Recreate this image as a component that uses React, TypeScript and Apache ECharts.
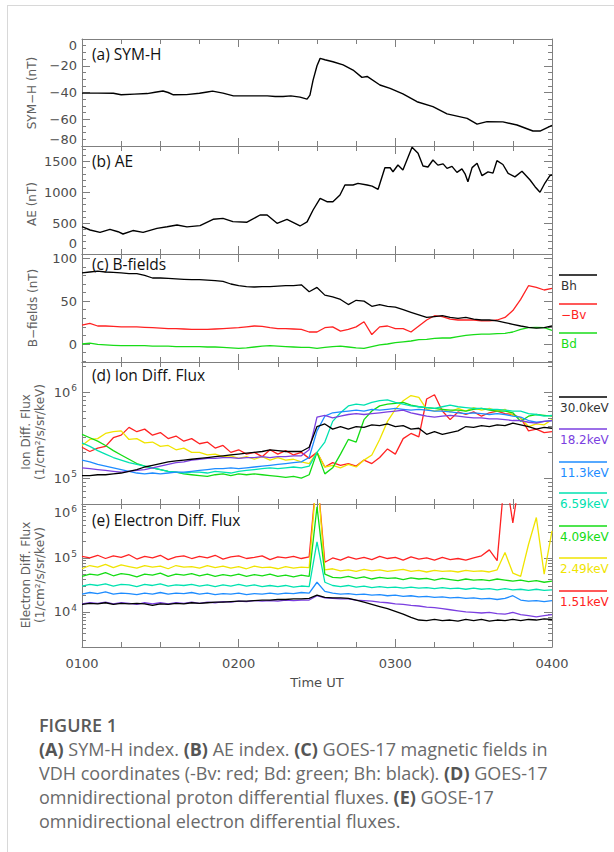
import React, { useEffect, useRef } from "react";
import * as echarts from "echarts";

// ---------- time grid (minutes after 0000 UT) ----------
const TIMES = [60, 63, 66, 69, 72, 75, 78, 81, 84, 87, 90, 93, 96, 99, 102, 105, 108, 111, 114, 117, 120, 123, 126, 129, 132, 135, 138, 141, 144, 147, 150, 153, 156, 159, 162, 165, 168, 171, 174, 177, 180, 183, 186, 189, 192, 195, 198, 201, 204, 207, 210, 213, 216, 219, 222, 225, 228, 231, 234, 237, 240];

// ---------- (a) SYM-H [minute, nT] ----------
const SYMH = [[60, -40.5], [66, -40.5], [72, -40.6], [75, -41.7], [80, -41.2], [85, -40.8], [88, -39.8], [91, -38.9], [93, -40], [95, -41.7], [100, -41.6], [105, -40.6], [108, -39.6], [110, -39], [114, -40.5], [118, -42.5], [124, -42.5], [131, -42.5], [134, -43], [137, -43], [140, -42.5], [143.5, -43.5], [146.2, -44.9], [147.3, -42], [148.5, -30.7], [150, -20], [151.2, -14.5], [153, -15.5], [156.1, -17], [160, -19.4], [163.8, -23.2], [167.2, -28.7], [169.2, -28], [174.1, -34.4], [178, -36.9], [182.9, -41.1], [188.3, -46.9], [194.4, -50.6], [199.8, -56], [207.5, -59.3], [211.3, -63.6], [215.1, -61.8], [221.2, -62], [226.6, -64.3], [232.7, -68.8], [235.4, -68.8], [240, -64.5]];

// ---------- (b) AE [minute, nT] ----------
const AE = [[60, 442], [63.1, 389], [66.9, 351], [70.7, 400], [73.8, 361], [75.7, 324], [79.5, 380], [83.4, 350], [88.7, 416], [92.6, 442], [96.4, 470], [100.2, 440], [105.2, 460], [110.2, 562], [114, 578], [117.8, 524], [123.2, 515], [128.2, 632], [130.9, 632], [134.7, 497], [138.5, 560], [143.5, 454], [146.2, 520], [148.5, 713], [151.2, 902], [153.8, 847], [156.1, 847], [158.8, 956], [160.7, 1118], [163.8, 1118], [165.7, 1145], [169.2, 1118], [171.1, 1100], [173.4, 1048], [176, 1398], [178, 1398], [179.1, 1333], [181, 1442], [182.9, 1361], [186.4, 1728], [188.7, 1631], [190.6, 1426], [192.5, 1410], [194.4, 1523], [196.3, 1440], [198.3, 1460], [199.8, 1388], [201.7, 1420], [203.6, 1323], [205.5, 1380], [206.7, 1300], [207.8, 1171], [209.4, 1400], [211.3, 1469], [213.2, 1269], [215.5, 1330], [217.4, 1310], [218.9, 1512], [221.2, 1450], [223.2, 1307], [225.8, 1250], [228.5, 1340], [231.6, 1199], [233.5, 1091], [235.4, 1000], [237.3, 1150], [239.2, 1269], [240, 1280]];

// ---------- (c) B-fields, nT, on TIMES ----------
const BH = [83, 84, 85, 84, 83.5, 83, 82, 82, 80, 77, 77, 76.5, 76, 75.5, 75, 75, 74.5, 74, 73, 70, 68, 67, 66.5, 67, 67, 67.5, 68, 68, 69, 61, 66, 57, 55, 52, 46, 51, 50, 44, 46, 44, 43, 40, 37, 34, 31, 32, 33, 31, 30, 31, 29, 28, 28, 27, 25, 23, 21, 19.5, 18.5, 19, 21];
const MINUS_BV = [22, 24, 21, 21, 20.5, 20, 20, 20, 19.5, 19, 18.5, 18, 18, 17.5, 17, 17, 17, 17.5, 18, 18.5, 19, 20, 21, 20.5, 19, 18, 18, 17.5, 17, 14, 14, 19, 20, 15, 17, 20, 26, 11, 20, 21, 18, 18, 14, 21, 28, 33, 32, 29, 28, 28, 28, 27, 27, 28, 31, 39, 52, 68, 66, 63, 65];
const BD = [0, 1, -0.5, -1, -1.5, -2, -2, -2, -2, -2.5, -2.5, -2.5, -3, -3, -3, -3, -3.5, -3.5, -4, -4.5, -5, -4.5, -3.5, -2.5, -2, -2.5, -3, -3.5, -4, -4, -5, -4, -3, -2.5, -3.5, -4.5, -5, -3, -1, 0, 1.5, 2.5, 3.5, 5, 5.5, 6.5, 7, 7, 8.5, 10, 11, 11.5, 11.5, 12, 12.5, 14, 17, 19, 19.5, 19, 16];

// ---------- (d) Ion differential flux, log10(1/cm2/s/sr/keV), on TIMES ----------
const ION_30_0 = [5.03, 5.03, 5.04, 5.04, 5.05, 5.06, 5.08, 5.10, 5.13, 5.15, 5.17, 5.19, 5.20, 5.21, 5.22, 5.23, 5.24, 5.25, 5.26, 5.27, 5.28, 5.29, 5.30, 5.31, 5.33, 5.32, 5.31, 5.31, 5.31, 5.36, 5.60, 5.63, 5.57, 5.60, 5.57, 5.60, 5.59, 5.62, 5.61, 5.63, 5.60, 5.61, 5.57, 5.58, 5.51, 5.54, 5.51, 5.53, 5.55, 5.60, 5.59, 5.61, 5.60, 5.62, 5.61, 5.64, 5.62, 5.60, 5.57, 5.59, 5.58];
const ION_18_2 = [5.12, 5.11, 5.10, 5.09, 5.08, 5.07, 5.08, 5.09, 5.10, 5.12, 5.14, 5.16, 5.18, 5.19, 5.21, 5.22, 5.23, 5.23, 5.24, 5.24, 5.23, 5.24, 5.24, 5.25, 5.24, 5.25, 5.25, 5.26, 5.26, 5.33, 5.71, 5.73, 5.70, 5.72, 5.74, 5.75, 5.74, 5.75, 5.76, 5.77, 5.78, 5.79, 5.76, 5.74, 5.72, 5.71, 5.72, 5.73, 5.72, 5.71, 5.70, 5.70, 5.69, 5.69, 5.68, 5.67, 5.67, 5.65, 5.64, 5.66, 5.67];
const ION_11_3 = [5.21, 5.19, 5.16, 5.14, 5.12, 5.10, 5.08, 5.06, 5.05, 5.06, 5.05, 5.06, 5.07, 5.07, 5.08, 5.09, 5.10, 5.11, 5.11, 5.12, 5.11, 5.12, 5.13, 5.14, 5.15, 5.16, 5.17, 5.18, 5.19, 5.24, 5.55, 5.72, 5.76, 5.77, 5.78, 5.79, 5.78, 5.80, 5.79, 5.80, 5.81, 5.80, 5.79, 5.80, 5.79, 5.78, 5.78, 5.77, 5.76, 5.75, 5.76, 5.75, 5.74, 5.75, 5.74, 5.72, 5.71, 5.67, 5.65, 5.66, 5.67];
const ION_6_59 = [5.41, 5.37, 5.32, 5.28, 5.24, 5.21, 5.18, 5.16, 5.14, 5.12, 5.10, 5.08, 5.07, 5.06, 5.07, 5.07, 5.06, 5.08, 5.07, 5.06, 5.08, 5.09, 5.10, 5.11, 5.12, 5.11, 5.12, 5.13, 5.12, 5.14, 5.30, 5.42, 5.66, 5.76, 5.84, 5.86, 5.85, 5.88, 5.90, 5.91, 5.88, 5.86, 5.84, 5.83, 5.82, 5.81, 5.83, 5.85, 5.83, 5.82, 5.81, 5.81, 5.80, 5.80, 5.79, 5.78, 5.78, 5.75, 5.74, 5.72, 5.73];
const ION_4_09 = [5.51, 5.47, 5.43, 5.38, 5.32, 5.27, 5.22, 5.17, 5.14, 5.12, 5.10, 5.08, 5.07, 5.05, 5.04, 5.03, 5.02, 5.04, 5.05, 5.03, 5.05, 5.04, 5.05, 5.04, 5.03, 5.02, 5.01, 5.02, 5.00, 5.04, 5.30, 5.05, 5.12, 5.28, 5.45, 5.42, 5.68, 5.78, 5.84, 5.86, 5.87, 5.88, 5.85, 5.83, 5.82, 5.81, 5.80, 5.79, 5.79, 5.78, 5.80, 5.81, 5.79, 5.78, 5.78, 5.76, 5.66, 5.72, 5.74, 5.73, 5.72];
const ION_2_49 = [5.38, 5.45, 5.46, 5.52, 5.54, 5.55, 5.45, 5.46, 5.41, 5.42, 5.37, 5.38, 5.33, 5.35, 5.30, 5.30, 5.27, 5.28, 5.25, 5.26, 5.23, 5.25, 5.22, 5.25, 5.21, 5.24, 5.21, 5.22, 5.19, 5.17, 5.30, 5.13, 5.15, 5.12, 5.16, 5.13, 5.21, 5.27, 5.45, 5.66, 5.80, 5.90, 5.96, 5.94, 5.80, 5.78, 5.80, 5.77, 5.81, 5.78, 5.82, 5.79, 5.81, 5.78, 5.80, 5.73, 5.70, 5.60, 5.63, 5.62, 5.68];
const ION_1_51 = [5.36, 5.31, 5.35, 5.37, 5.47, 5.50, 5.59, 5.54, 5.57, 5.50, 5.53, 5.46, 5.49, 5.43, 5.46, 5.40, 5.42, 5.35, 5.38, 5.30, 5.33, 5.28, 5.30, 5.25, 5.33, 5.28, 5.32, 5.27, 5.30, 5.23, 5.30, 5.13, 5.18, 5.15, 5.17, 5.14, 5.21, 5.17, 5.24, 5.34, 5.28, 5.46, 5.52, 5.48, 5.92, 5.97, 5.78, 5.68, 5.77, 5.74, 5.77, 5.72, 5.76, 5.78, 5.75, 5.74, 5.70, 5.55, 5.57, 5.53, 5.54];

// ---------- (e) Electron differential flux, log10, on TIMES (6.6 = off scale) ----------
const ELE_30_0 = [4.14, 4.16, 4.15, 4.17, 4.14, 4.16, 4.15, 4.16, 4.15, 4.12, 4.15, 4.14, 4.16, 4.15, 4.17, 4.16, 4.17, 4.18, 4.18, 4.19, 4.20, 4.20, 4.21, 4.22, 4.22, 4.23, 4.23, 4.24, 4.24, 4.25, 4.31, 4.27, 4.26, 4.26, 4.25, 4.22, 4.18, 4.14, 4.10, 4.06, 4.01, 3.96, 3.90, 3.85, 3.84, 3.86, 3.84, 3.85, 3.83, 3.86, 3.84, 3.86, 3.83, 3.85, 3.84, 3.86, 3.84, 3.86, 3.85, 3.87, 3.86];
const ELE_18_2 = [4.15, 4.17, 4.16, 4.18, 4.15, 4.17, 4.16, 4.14, 4.17, 4.15, 4.17, 4.15, 4.17, 4.16, 4.18, 4.16, 4.18, 4.17, 4.19, 4.18, 4.20, 4.19, 4.21, 4.20, 4.21, 4.20, 4.22, 4.21, 4.22, 4.22, 4.30, 4.26, 4.25, 4.24, 4.24, 4.22, 4.21, 4.20, 4.18, 4.17, 4.15, 4.14, 4.12, 4.11, 4.09, 4.08, 4.06, 4.04, 4.02, 4.00, 3.99, 3.98, 3.99, 3.97, 3.96, 3.99, 3.95, 3.93, 3.91, 3.93, 3.95];
const ELE_11_3 = [4.33, 4.36, 4.34, 4.37, 4.33, 4.35, 4.34, 4.32, 4.35, 4.33, 4.36, 4.33, 4.35, 4.34, 4.36, 4.33, 4.35, 4.32, 4.34, 4.33, 4.35, 4.32, 4.34, 4.33, 4.35, 4.33, 4.35, 4.34, 4.36, 4.35, 4.55, 4.38, 4.35, 4.33, 4.34, 4.32, 4.33, 4.31, 4.32, 4.30, 4.31, 4.29, 4.30, 4.28, 4.29, 4.27, 4.28, 4.26, 4.27, 4.25, 4.26, 4.24, 4.25, 4.23, 4.25, 4.30, 4.22, 4.20, 4.21, 4.19, 4.21];
const ELE_6_59 = [4.48, 4.51, 4.49, 4.52, 4.48, 4.51, 4.50, 4.47, 4.51, 4.49, 4.52, 4.48, 4.50, 4.49, 4.51, 4.48, 4.50, 4.47, 4.50, 4.48, 4.51, 4.48, 4.50, 4.47, 4.49, 4.47, 4.49, 4.46, 4.48, 4.47, 5.30, 4.55, 4.49, 4.47, 4.49, 4.46, 4.48, 4.45, 4.47, 4.45, 4.46, 4.44, 4.46, 4.44, 4.45, 4.43, 4.45, 4.43, 4.44, 4.42, 4.44, 4.42, 4.43, 4.41, 4.43, 4.41, 4.42, 4.40, 4.42, 4.40, 4.41];
const ELE_4_09 = [4.66, 4.70, 4.68, 4.73, 4.67, 4.71, 4.69, 4.65, 4.70, 4.68, 4.72, 4.66, 4.70, 4.68, 4.71, 4.67, 4.70, 4.66, 4.69, 4.67, 4.70, 4.66, 4.69, 4.67, 4.70, 4.66, 4.68, 4.65, 4.68, 4.66, 5.95, 4.70, 4.64, 4.63, 4.66, 4.62, 4.65, 4.61, 4.64, 4.62, 4.63, 4.60, 4.63, 4.61, 4.62, 4.59, 4.62, 4.60, 4.58, 4.61, 4.59, 4.60, 4.58, 4.61, 4.59, 4.57, 4.59, 4.56, 4.58, 4.55, 4.57];
const ELE_2_49 = [4.80, 4.86, 4.83, 4.88, 4.82, 4.87, 4.84, 4.81, 4.86, 4.83, 4.85, 4.80, 4.86, 4.83, 4.84, 4.81, 4.86, 4.82, 4.85, 4.81, 4.84, 4.80, 4.85, 4.82, 4.83, 4.80, 4.84, 4.81, 4.83, 4.82, 6.60, 4.78, 4.80, 4.76, 4.78, 4.75, 4.79, 4.76, 4.78, 4.75, 4.77, 4.79, 4.75, 4.77, 4.74, 4.77, 4.75, 4.76, 4.74, 4.77, 4.75, 4.76, 4.74, 4.78, 5.10, 4.72, 4.66, 5.25, 5.75, 4.70, 5.50];
const ELE_1_51 = [5.03, 5.00, 5.05, 4.99, 5.04, 5.01, 5.06, 4.98, 5.03, 5.00, 5.05, 4.97, 5.02, 5.04, 4.99, 5.03, 5.00, 5.05, 4.98, 5.02, 5.04, 4.99, 5.01, 5.04, 4.97, 5.02, 5.00, 5.03, 4.99, 5.02, 6.60, 4.92, 5.00, 4.96, 5.02, 4.98, 5.01, 4.97, 5.03, 4.99, 5.01, 4.96, 5.02, 4.98, 5.00, 4.96, 5.01, 4.97, 4.99, 4.96, 5.00, 5.04, 5.15, 4.95, 6.60, 5.65, 6.60, 6.60, 6.60, 6.60, 6.60];

// ---------- tick labels ----------
const TIME_TICKS = [60, 120, 180, 240];
const SYMH_TICKS = [-80, -60, -40, -20, 0];
const AE_TICKS = [0, 500, 1000, 1500];
const B_TICKS = [0, 50, 100];
const ION_TICKS = [5, 6];
const ELE_TICKS = [4, 5, 6];

const ENERGIES = ["30.0keV", "18.2keV", "11.3keV", "6.59keV", "4.09keV", "2.49keV", "1.51keV"];
const ENERGY_COLORS = ["#000000", "#7b3fe0", "#1e8cff", "#00e2b0", "#14dc14", "#f0e400", "#ff2222"];
const B_NAMES = ["Bh", "\u2212Bv", "Bd"];
const B_COLORS = ["#000000", "#ff2222", "#18dc18"];

const AXIS_COLOR = "#7f7f7f";
const LABEL_COLOR = "#4d4d4d";
const TICK_FONT = "DejaVu Sans";

const GRID_LEFT = 82;
const GRID_RIGHT_X = 552;

const PANELS = [
  { top: 39, height: 107, min: -80, max: 0, majors: SYMH_TICKS, minorStep: 5, log: false, vMin: "bottom", vMax: "top", lift0: false },
  { top: 146, height: 108, min: 0, max: 1750, majors: AE_TICKS, minorStep: 100, log: false, vMin: "bottom", vMax: null, lift0: true },
  { top: 254, height: 108, min: -21, max: 105, majors: B_TICKS, minorStep: 10, log: false, vMin: null, vMax: null, lift0: false },
  { top: 362, height: 142, min: 4.7, max: 6.35, majors: ION_TICKS, minorStep: 0, log: true, vMin: null, vMax: null, lift0: false },
  { top: 504, height: 143, min: 3.35, max: 6.0, majors: ELE_TICKS, minorStep: 0, log: true, vMin: null, vMax: "top", lift0: false },
];

function minorValues(p: any): number[] {
  const out: number[] = [];
  if (p.log) {
    for (let n = Math.floor(p.min); n <= Math.ceil(p.max); n++) {
      for (let k = 2; k <= 9; k++) {
        const v = n + Math.log10(k);
        if (v > p.min && v < p.max) out.push(v);
      }
    }
  } else {
    for (let v = Math.ceil(p.min / p.minorStep) * p.minorStep; v <= p.max; v += p.minorStep) {
      if (!p.majors.includes(v)) out.push(v);
    }
  }
  return out;
}

const fmtLinear = (v: number) => (v < 0 ? "\u2212" + Math.abs(v) : String(v));
const fmtLift0 = (v: number) => (v === 0 ? "{z|0}" : String(v));
const fmtLog = (v: number) => `{b|10}{s|${Math.round(v)}}`;
const fmtTime = (v: number) => "0" + Math.floor(v / 60) + "00";

function buildOption() {
  const grids: any[] = [];
  const xAxes: any[] = [];
  const yAxes: any[] = [];
  PANELS.forEach((p, i) => {
    grids.push({ left: GRID_LEFT, width: GRID_RIGHT_X - GRID_LEFT, top: p.top, height: p.height, containLabel: false, outerBoundsMode: "none", show: false });
    const isLast = i === PANELS.length - 1;
    const xBase = {
      type: "value", gridIndex: i, min: 60, max: 240, interval: 60,
      splitLine: { show: false },
      axisLine: { show: true, onZero: false, lineStyle: { color: AXIS_COLOR, width: 1 } },
      axisTick: { show: true, inside: true, length: 8, lineStyle: { color: AXIS_COLOR, width: 1 } },
      minorTick: { show: true, splitNumber: 4, length: 5, lineStyle: { color: AXIS_COLOR, width: 1 } },
      minorSplitLine: { show: false },
    };
    xAxes.push({
      ...xBase, position: "bottom",
      axisLabel: { show: isLast, customValues: TIME_TICKS, formatter: fmtTime, color: LABEL_COLOR, fontFamily: TICK_FONT, fontSize: 13, margin: 10 },
    });
    xAxes.push({ ...xBase, position: "top", axisLabel: { show: false } });

    const minors = minorValues(p);
    const yBase = {
      type: "value", gridIndex: i, min: p.min, max: p.max,
      splitLine: { show: false }, minorTick: { show: false }, minorSplitLine: { show: false },
      axisLine: { show: true, onZero: false, lineStyle: { color: AXIS_COLOR, width: 1 } },
    };
    const label: any = {
      show: true, customValues: p.majors, formatter: p.log ? fmtLog : p.lift0 ? fmtLift0 : fmtLinear,
      color: LABEL_COLOR, fontFamily: TICK_FONT, fontSize: 13, margin: 5,
    };
    if (p.vMin) label.verticalAlignMinLabel = p.vMin;
    if (p.vMax) label.verticalAlignMaxLabel = p.vMax;
    if (p.lift0) {
      label.rich = { z: { fontFamily: TICK_FONT, fontSize: 13, color: LABEL_COLOR, padding: [0, 0, 4, 0] } };
    }
    if (p.log) {
      label.rich = {
        b: { fontFamily: TICK_FONT, fontSize: 13, color: LABEL_COLOR },
        s: { fontFamily: TICK_FONT, fontSize: 9, color: LABEL_COLOR, padding: [0, 0, 8, 1] },
      };
    }
    const majorTick = { show: true, inside: true, length: 8, customValues: p.majors, lineStyle: { color: AXIS_COLOR, width: 1 } };
    const minorTick = { show: true, inside: true, length: 4, customValues: minors, lineStyle: { color: AXIS_COLOR, width: 1 } };
    yAxes.push({ ...yBase, position: "left", axisTick: majorTick, axisLabel: label });
    yAxes.push({ ...yBase, position: "right", axisTick: majorTick, axisLabel: { show: false } });
    yAxes.push({ ...yBase, position: "left", axisLine: { show: false, onZero: false }, axisTick: minorTick, axisLabel: { show: false } });
    yAxes.push({ ...yBase, position: "right", axisLine: { show: false, onZero: false }, axisTick: minorTick, axisLabel: { show: false } });
  });

  const mk = (name: string, data: any[], color: string, panel: number, width = 1.3) => ({
    type: "line", name, data, xAxisIndex: panel * 2, yAxisIndex: panel * 4,
    showSymbol: false, symbol: "none", silent: true, clip: true, z: 3,
    lineStyle: { color, width }, itemStyle: { color },
  });
  const onGrid = (ys: number[]) => TIMES.map((t, k) => [t, ys[k]]);

  const ION = [ION_30_0, ION_18_2, ION_11_3, ION_6_59, ION_4_09, ION_2_49, ION_1_51];
  const ELE = [ELE_30_0, ELE_18_2, ELE_11_3, ELE_6_59, ELE_4_09, ELE_2_49, ELE_1_51];

  const series: any[] = [
    mk("SYM-H", SYMH, "#000000", 0, 1.4),
    mk("AE", AE, "#000000", 1, 1.4),
    mk("Bd", onGrid(BD), B_COLORS[2], 2),
    mk("-Bv", onGrid(MINUS_BV), B_COLORS[1], 2),
    mk("Bh", onGrid(BH), B_COLORS[0], 2),
  ];
  for (let k = ION.length - 1; k >= 0; k--) series.push(mk("ion " + ENERGIES[k], onGrid(ION[k]), ENERGY_COLORS[k], 3));
  for (let k = ELE.length - 1; k >= 0; k--) series.push(mk("ele " + ENERGIES[k], onGrid(ELE[k]), ENERGY_COLORS[k], 4));

  const txt = (text: string, x: number, y: number, o: any = {}) => ({
    type: "text", x, y, rotation: o.rotation || 0, silent: true, z: 10,
    style: {
      text, fill: o.fill || "#111", fontSize: o.fontSize || 13, fontFamily: o.fontFamily || TICK_FONT,
      fontWeight: o.fontWeight || "normal",
      align: o.align || "left", textAlign: o.align || "left",
      verticalAlign: "middle", textVerticalAlign: "middle",
      rich: o.rich,
    },
  });
  const ln = (x1: number, y1: number, x2: number, y2: number, stroke: string, lineWidth = 1) => ({
    type: "line", silent: true, z: 10, shape: { x1, y1, x2, y2 }, style: { stroke, lineWidth },
  });

  const PANEL_TITLES = ["(a) SYM-H", "(b) AE", "(c) B-fields", "(d) Ion Diff. Flux", "(e) Electron Diff. Flux"];
  const TITLE_Y = [54, 161, 264, 375, 520];
  const graphics: any[] = [
    ln(7, 5.5, 614, 5.5, "#d8d8d8"),
    ln(7.5, 5, 7.5, 852, "#d8d8d8"),
  ];
  PANEL_TITLES.forEach((t, i) => graphics.push(txt(t, 92, TITLE_Y[i], { fontFamily: "Open Sans", fontSize: 15.5, fill: "#111" })));

  const rot = { rotation: Math.PI / 2, align: "center", fontSize: 12, fill: "#606060" };
  graphics.push(txt("SYM\u2212H (nT)", 32, 93, rot));
  graphics.push(txt("AE (nT)", 32, 204, rot));
  graphics.push(txt("B\u2212fields (nT)", 33, 308, rot));
  graphics.push(txt("Ion Diff. Flux", 26, 432, rot));
  graphics.push(txt("(1/cm\u00b2/s/sr/keV)", 40, 432, rot));
  graphics.push(txt("Electron Diff. Flux", 26, 575, rot));
  graphics.push(txt("(1/cm\u00b2/s/sr/keV)", 40, 575, rot));

  const B_LEG_Y = [275, 304, 333];
  B_NAMES.forEach((n, i) => {
    graphics.push(ln(559, B_LEG_Y[i], 597, B_LEG_Y[i], B_COLORS[i], 1.6));
    graphics.push(txt(n, 561, B_LEG_Y[i] + 11, { fontSize: 12, fill: i === 0 ? "#333" : B_COLORS[i] }));
  });
  const E_LEG_Y = [397, 429, 462, 493, 526, 558, 591];
  ENERGIES.forEach((n, i) => {
    graphics.push(ln(559, E_LEG_Y[i], 607, E_LEG_Y[i], ENERGY_COLORS[i], 1.6));
    graphics.push(txt(n, 560, E_LEG_Y[i] + 11, { fontSize: 12, fill: i === 0 ? "#333" : ENERGY_COLORS[i] }));
  });

  graphics.push(txt("Time UT", 317, 682, { align: "center", fontSize: 13, fill: "#4d4d4d" }));

  const capRich = { b: { fontWeight: "bold", fill: "#555", color: "#555", fontFamily: "Open Sans", fontSize: 18 } };
  const cap = { fontFamily: "Open Sans", fontSize: 18, fill: "#6a6a6a", rich: capRich };
  graphics.push(txt("FIGURE 1", 39, 725, { fontFamily: "Open Sans", fontSize: 18, fontWeight: 600, fill: "#5a5a5a" }));
  graphics.push(txt("{b|(A)} SYM-H index. {b|(B)} AE index. {b|(C)} GOES-17 magnetic fields in", 39, 749, cap));
  graphics.push(txt("VDH coordinates (-Bv: red; Bd: green; Bh: black). {b|(D)} GOES-17", 39, 773, cap));
  graphics.push(txt("omnidirectional proton differential fluxes. {b|(E)} GOSE-17", 39, 797, cap));
  graphics.push(txt("omnidirectional electron differential fluxes.", 39, 821, cap));

  return {
    animation: false,
    backgroundColor: "#ffffff",
    grid: grids,
    xAxis: xAxes,
    yAxis: yAxes,
    series,
    graphic: { elements: graphics },
  };
}

export default function App() {
  const ref = useRef<HTMLDivElement>(null);
  useEffect(() => {
    if (!ref.current) return;
    const chart = echarts.init(ref.current, undefined, { renderer: "svg", width: 614, height: 852 });
    chart.setOption(buildOption() as any);
    return () => chart.dispose();
  }, []);
  return <div ref={ref} style={{ position: "fixed", left: 0, top: 0, width: 614, height: 852, background: "#fff" }} />;
}
